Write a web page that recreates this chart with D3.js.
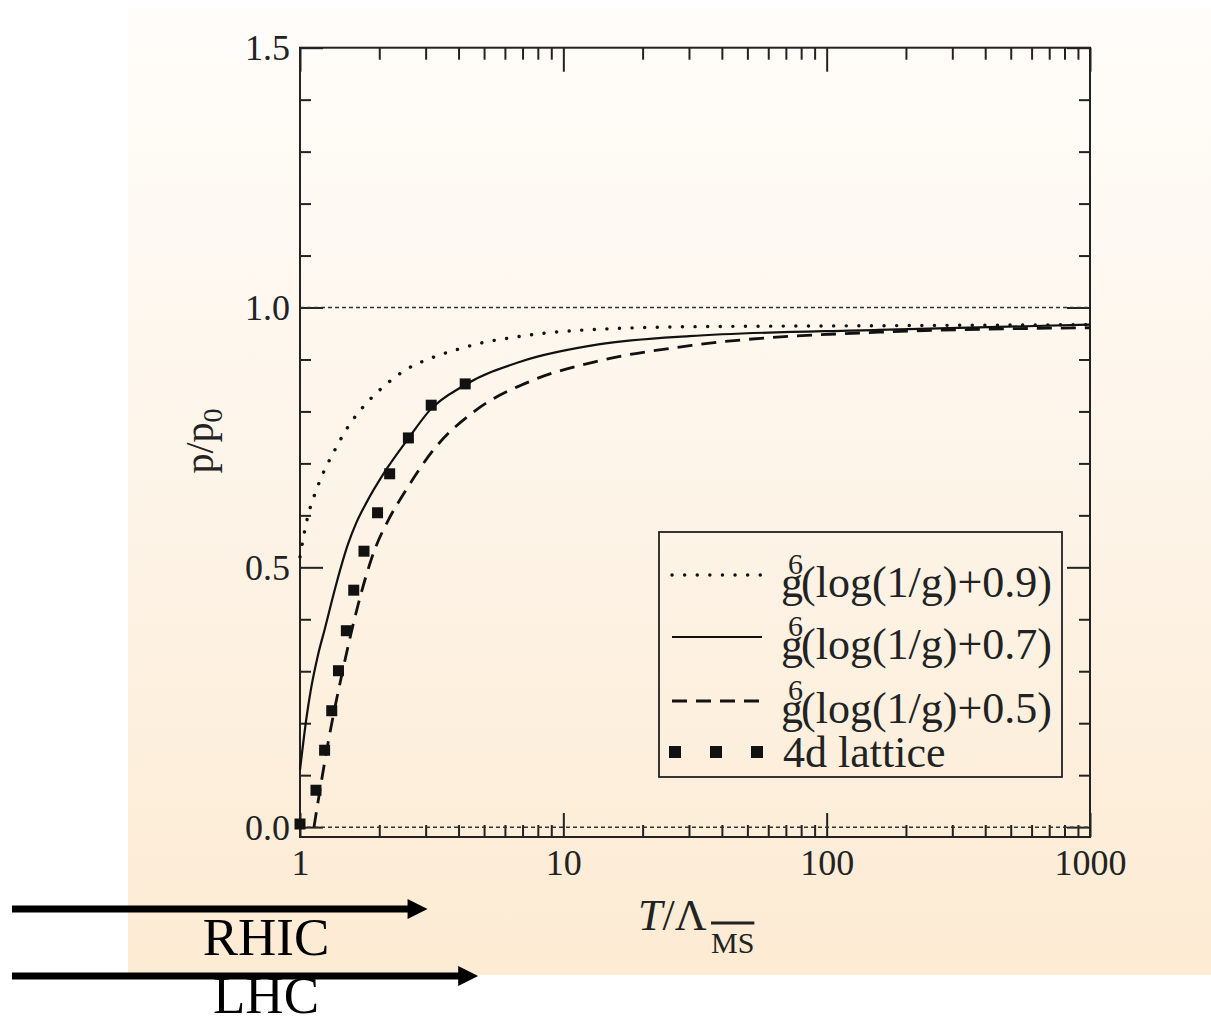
<!DOCTYPE html>
<html>
<head>
<meta charset="utf-8">
<script src="https://cdn.jsdelivr.net/npm/d3@7"></script>
<style>
  body { margin: 0; background: #fff; }
  text { font-family: "Liberation Serif", "Times New Roman", serif; fill: #222; }
</style>
</head>
<body>
<svg id="chart" width="1211" height="1023"></svg>
<script>
// curves: T/Lambda values and p/p0 values
const dotT = [1, 1.03, 1.05, 1.07, 1.17, 1.36, 1.52, 1.76, 2.1, 2.5, 3.16, 4, 5, 6, 10, 30, 160, 1000];
const dotP = [0.52, 0.557, 0.579, 0.597, 0.657, 0.727, 0.77, 0.812, 0.85, 0.879, 0.903, 0.92, 0.933, 0.94, 0.954, 0.963, 0.965, 0.967];

const solidT = [1, 1.058, 1.1, 1.17, 1.24, 1.375, 1.52, 1.637, 1.79, 2.1, 2.58, 3.12, 4.2, 7, 13.6, 30, 158, 1000];
const solidP = [0.11, 0.21, 0.265, 0.331, 0.38, 0.469, 0.544, 0.586, 0.625, 0.684, 0.748, 0.803, 0.85, 0.897, 0.929, 0.945, 0.957, 0.967];

const dashT = [1.13, 1.154, 1.278, 1.458, 1.662, 1.925, 2.16, 2.5, 3.26, 4.62, 7.57, 13.6, 30.7, 158, 1000];
const dashP = [0.0, 0.029, 0.162, 0.305, 0.428, 0.535, 0.59, 0.645, 0.73, 0.801, 0.859, 0.897, 0.927, 0.9525, 0.961];

const latT = [1.0, 1.15, 1.24, 1.32, 1.40, 1.50, 1.60, 1.75, 1.97, 2.19, 2.58, 3.15, 4.24];
const latP = [0.006, 0.071, 0.148, 0.224, 0.301, 0.378, 0.456, 0.531, 0.605, 0.68, 0.749, 0.812, 0.853];

const xMajor = [1, 10, 100, 1000];
const xLabels = ["1", "10", "100", "1000"];
const yMajor = [0, 0.5, 1, 1.5];
const yLabels = ["0.0", "0.5", "1.0", "1.5"];
const refLines = [0, 1];

const legendNames = ["(log(1/g)+0.9)", "(log(1/g)+0.7)", "(log(1/g)+0.5)", "4d lattice"];

// RHIC / LHC reach in T/Lambda
const colliders = ["RHIC", "LHC"];
const colliderReach = [3.05, 4.75];

const svg = d3.select("#chart");

const plotLeft = 300, plotRight = 1090, plotTop = 47.7, plotBottom = 837;

const x = d3.scaleLog().domain([1, 1000]).range([plotLeft, plotRight]);
const y = d3.scaleLinear().domain([-0.019, 1.5]).range([plotBottom, plotTop]);

// background panel
const defs = svg.append("defs");
const grad = defs.append("linearGradient")
  .attr("id", "bg").attr("x1", 0).attr("y1", 0).attr("x2", 0).attr("y2", 1);
grad.append("stop").attr("offset", "0").attr("stop-color", "#fffdfa");
grad.append("stop").attr("offset", "0.45").attr("stop-color", "#fdf5ea");
grad.append("stop").attr("offset", "1").attr("stop-color", "#fdebd3");

svg.append("rect")
  .attr("x", 128).attr("y", 8)
  .attr("width", 1083).attr("height", 967)
  .attr("fill", "url(#bg)");

// minor ticks
const xMinor = [];
[1, 10, 100].forEach(d => { for (let k = 2; k <= 9; k++) xMinor.push(d * k); });
const yMinor = d3.range(1, 15).map(d => d / 10).filter(d => Math.abs(d * 2 - Math.round(d * 2)) > 1e-6);

const axisStyle = g => {
  g.select(".domain").remove();
  g.selectAll("line").attr("stroke", "#222").attr("stroke-width", 2);
};

svg.append("g").attr("transform", `translate(0,${plotBottom})`)
  .call(d3.axisBottom(x).tickValues(xMinor).tickSize(-12).tickFormat(""))
  .call(axisStyle);
svg.append("g").attr("transform", `translate(0,${plotBottom})`)
  .call(d3.axisBottom(x).tickValues(xMajor).tickSize(-24).tickPadding(38).tickFormat((d, i) => xLabels[i]))
  .call(axisStyle)
  .call(g => g.selectAll("text").attr("font-size", 36).attr("fill", "#222")
    .attr("font-family", "Liberation Serif, serif").attr("dy", "0"));
svg.append("g").attr("transform", `translate(0,${plotTop})`)
  .call(d3.axisTop(x).tickValues(xMinor).tickSize(-12).tickFormat(""))
  .call(axisStyle);
svg.append("g").attr("transform", `translate(0,${plotTop})`)
  .call(d3.axisTop(x).tickValues(xMajor).tickSize(-24).tickFormat(""))
  .call(axisStyle);

svg.append("g").attr("transform", `translate(${plotLeft},0)`)
  .call(d3.axisLeft(y).tickValues(yMinor).tickSize(-11).tickFormat(""))
  .call(axisStyle);
svg.append("g").attr("transform", `translate(${plotLeft},0)`)
  .call(d3.axisLeft(y).tickValues(yMajor).tickSize(-23).tickPadding(10).tickFormat((d, i) => yLabels[i]))
  .call(axisStyle)
  .call(g => g.selectAll("text").attr("font-size", 36).attr("fill", "#222")
    .attr("font-family", "Liberation Serif, serif").attr("dy", "0.34em"));
svg.append("g").attr("transform", `translate(${plotRight},0)`)
  .call(d3.axisRight(y).tickValues(yMinor).tickSize(-11).tickFormat(""))
  .call(axisStyle);
svg.append("g").attr("transform", `translate(${plotRight},0)`)
  .call(d3.axisRight(y).tickValues(yMajor).tickSize(-23).tickFormat(""))
  .call(axisStyle);

// reference lines at 0 and 1
svg.selectAll(".ref")
  .data(refLines)
  .enter().append("line")
  .attr("class", "ref")
  .attr("x1", plotLeft).attr("x2", plotRight)
  .attr("y1", d => y(d)).attr("y2", d => y(d))
  .attr("stroke", "#333").attr("stroke-width", 1.5)
  .attr("stroke-dasharray", "4,3");

// frame
svg.append("rect")
  .attr("x", plotLeft).attr("y", plotTop)
  .attr("width", plotRight - plotLeft).attr("height", plotBottom - plotTop)
  .attr("fill", "none").attr("stroke", "#222").attr("stroke-width", 2);

const line = d3.line()
  .x(d => x(d[0]))
  .y(d => y(d[1]))
  .curve(d3.curveMonotoneX);

const styles = [
  { dash: "0.1,12.5", width: 3.4, cap: "round" },
  { dash: null, width: 2.2, cap: "butt" },
  { dash: "15,9", width: 2.8, cap: "butt" }
];

const curves = [
  d3.zip(dotT, dotP),
  d3.zip(solidT, solidP),
  d3.zip(dashT, dashP)
];

curves.forEach((c, i) => {
  svg.append("path")
    .datum(c)
    .attr("d", line)
    .attr("fill", "none")
    .attr("stroke", "#111")
    .attr("stroke-width", styles[i].width)
    .attr("stroke-linecap", styles[i].cap)
    .attr("stroke-dasharray", styles[i].dash);
});

// lattice points
svg.selectAll(".lat")
  .data(d3.zip(latT, latP))
  .enter().append("rect")
  .attr("class", "lat")
  .attr("x", d => x(d[0]) - 5.5)
  .attr("y", d => y(d[1]) - 5.5)
  .attr("width", 11).attr("height", 11)
  .attr("fill", "#111");

// legend
const lg = svg.append("g");
lg.append("rect")
  .attr("x", 659).attr("y", 532)
  .attr("width", 403).attr("height", 245)
  .attr("fill", "none").attr("stroke", "#222").attr("stroke-width", 1.8);

const rowY = [575, 637, 701, 752];
styles.forEach((s, i) => {
  lg.append("line")
    .attr("x1", 672).attr("x2", 762)
    .attr("y1", rowY[i]).attr("y2", rowY[i])
    .attr("stroke", "#111")
    .attr("stroke-width", s.width)
    .attr("stroke-linecap", s.cap)
    .attr("stroke-dasharray", s.dash);
  const t = lg.append("text")
    .attr("x", 781).attr("y", rowY[i] + 22)
    .attr("font-size", 44);
  t.append("tspan").text("g");
  t.append("tspan").attr("font-size", 30).attr("dx", -15).attr("dy", -23).text("6");
  t.append("tspan").attr("dx", -2).attr("dy", 23).text(legendNames[i]);
});
[675, 716, 757].forEach(cx => {
  lg.append("rect")
    .attr("x", cx - 6).attr("y", rowY[3] - 6)
    .attr("width", 12).attr("height", 12)
    .attr("fill", "#111");
});
lg.append("text")
  .attr("x", 783).attr("y", rowY[3] + 15)
  .attr("font-size", 44)
  .text(legendNames[3]);

// axis titles
svg.append("text")
  .attr("transform", "translate(213,441) rotate(-90)")
  .attr("text-anchor", "middle")
  .attr("font-size", 40)
  .call(t => {
    t.append("tspan").text("p/p");
    t.append("tspan").attr("font-size", 28).attr("dy", 9).text("0");
  });

const xt = svg.append("text")
  .attr("x", 638).attr("y", 930)
  .attr("font-size", 44);
xt.append("tspan").attr("font-style", "italic").text("T");
xt.append("tspan").text("/Λ");
const ms = svg.append("text")
  .attr("x", 711).attr("y", 953)
  .attr("font-size", 30)
  .text("MS");
const msW = ms.node().getComputedTextLength();
svg.append("line")
  .attr("x1", 711).attr("x2", 711 + msW)
  .attr("y1", 923).attr("y2", 923)
  .attr("stroke", "#222").attr("stroke-width", 3);

// collider arrows
const arrowY = [909, 976];
const labelY = [955, 1013];
colliders.forEach((name, i) => {
  const tip = x(colliderReach[i]);
  svg.append("line")
    .attr("x1", 12).attr("x2", tip - 15)
    .attr("y1", arrowY[i]).attr("y2", arrowY[i])
    .attr("stroke", "#000").attr("stroke-width", 7);
  svg.append("path")
    .attr("d", `M${tip},${arrowY[i]} L${tip - 20},${arrowY[i] - 10} L${tip - 20},${arrowY[i] + 10} Z`)
    .attr("fill", "#000");
  svg.append("text")
    .attr("x", 266).attr("y", labelY[i])
    .attr("text-anchor", "middle")
    .attr("font-size", 53)
    .style("fill", "#000")
    .text(name);
});
</script>
</body>
</html>
